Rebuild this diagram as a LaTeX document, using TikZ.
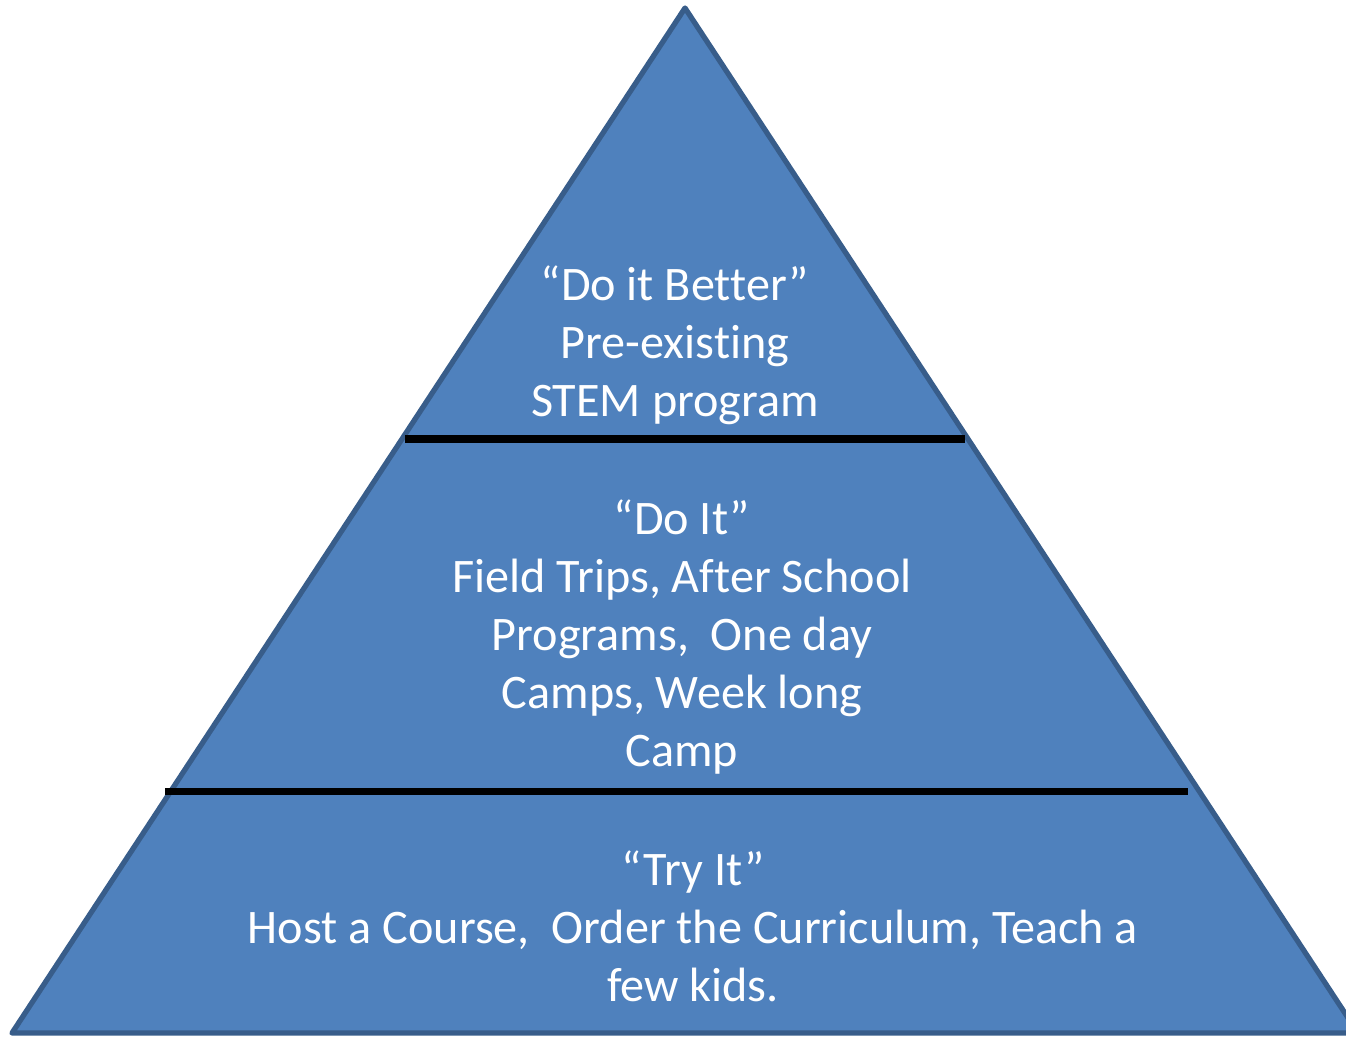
\documentclass[tikz,border=0pt]{standalone}
\usepackage{fontspec}
\setmainfont{Carlito}[Ligatures=NoCommon]
\usepackage{xcolor}
\definecolor{pyr}{HTML}{4F81BD}
\definecolor{pyredge}{HTML}{385D8A}

\begin{document}
\begin{tikzpicture}[x=0.01cm, y=-0.01cm,
  tier/.style={text=white, align=center, font=\fontsize{13.7}{16.5}\selectfont},
  divider/.style={black, line width=2pt}]
\useasboundingbox (0,0) rectangle (1346,1036);
\clip (0,0) rectangle (1346,1036);
\coordinate (apex) at (685,8);
\coordinate (left) at (12,1033);
\coordinate (right) at (1358,1033);
\filldraw[fill=pyr, draw=pyredge, line width=1.5pt, line join=round] (apex) -- (left) -- (right) -- cycle;
% dividers
\coordinate (d1a) at (405,439);
\coordinate (d1b) at (965,439);
\coordinate (d2a) at (165,791);
\coordinate (d2b) at (1188,791);
\draw[divider] (d1a) -- (d1b);
\draw[divider] (d2a) -- (d2b);
% tiers
\node[tier] (better) at (675,345) {“Do it Better”\\Pre-existing\\STEM program};
\node[tier] (doit) at (682,637) {“Do It”\\Field Trips, After School\\Programs,\ \ One day\\Camps, Week long\\Camp};
\node[tier] (tryit) at (693,926) {“Try It”\\Host a Course,\ \ Order the Curriculum, Teach a\\few kids.};
\end{tikzpicture}
\end{document}
